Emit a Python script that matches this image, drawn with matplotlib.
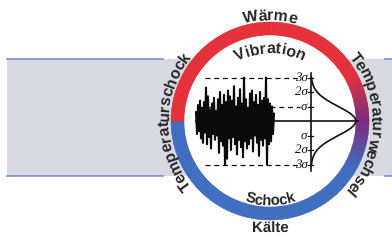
import numpy as np
import matplotlib
matplotlib.use('Agg')
import matplotlib.pyplot as plt
from matplotlib.patches import Wedge, Circle, Rectangle
from matplotlib.font_manager import FontProperties
from matplotlib.colors import LinearSegmentedColormap

# consistent glyph metrics for rotated single letters
plt.rcParams['text.hinting'] = 'no_hinting'
plt.rcParams['text.hinting_factor'] = 1

# Labels around the ring
top_label = 'Wärme'
bottom_label = 'Kälte'
inner_top_label = 'Vibration'
inner_bottom_label = 'Schock'
left_label = 'Temperaturschock'
right_label = 'Temperaturwechsel'

# Sigma levels and their labels on the distribution axis
sigma_levels = [3, 2, 1, -1, -2, -3]
sigma_labels = ['3σ', '2σ', 'σ', 'σ', '2σ', '3σ']

# Vibration signal (in sigma units)
signal = [0.6, -0.9, 1.1, -0.7, 1.4, -1.2, 0.9, -1.5, 1.3, -0.8,
          2.3, -1.6, 1.7, -1.1, 0.8, -1.9, 1.2, -0.9, 1.6, -1.3,
          0.7, -1.0, 1.5, -2.2, 2.0, -1.4, 1.1, -1.7, 1.8, -3.0,
          1.3, -2.6, 2.1, -1.2, 1.7, -2.0, 1.4, -1.1, 2.4, -1.6,
          1.0, -2.3, 1.6, -1.3, 2.2, -1.8, 1.2, -2.5, 3.0, -1.4,
          1.5, -1.9, 0.9, -1.6, 1.9, -1.2, 2.1, -2.1, 1.3, -1.0,
          1.8, -1.5, 1.1, -2.4, 2.0, -1.3, 1.4, -1.7, 1.6, -1.2,
          3.0, -3.0, 1.5, -1.6, 1.2, -1.4, 1.0, -0.9, 0.5]

# Bell curve (relative density) at sigma positions
bell_z = [-3, -2.75, -2.5, -2.25, -2, -1.75, -1.5, -1.25, -1, -0.75, -0.5, -0.25, 0,
          0.25, 0.5, 0.75, 1, 1.25, 1.5, 1.75, 2, 2.25, 2.5, 2.75, 3]
bell_d = [0.011, 0.023, 0.044, 0.080, 0.135, 0.216, 0.325, 0.458, 0.607, 0.755, 0.883, 0.969, 1.0,
          0.969, 0.883, 0.755, 0.607, 0.458, 0.325, 0.216, 0.135, 0.080, 0.044, 0.023, 0.011]

W, H = 392, 241
cx, cy = 270, 120
R_out, ring_w = 99, 14
sig = 14.5
FONT = 'Liberation Sans'
WEIGHT = 'bold'
TXT = '#262626'

fig = plt.figure(figsize=(W / 100, H / 100), dpi=100)
ax = fig.add_axes([0, 0, 1, 1])
ax.set_xlim(0, W)
ax.set_ylim(0, H)
ax.axis('off')

# Gray band with blue edges
ax.add_patch(Rectangle((7, 65), W - 7, 117, color='#d9d9e1', lw=0, zorder=0))
for yy in (65, 182):
    ax.plot([7, 163], [yy, yy], color='#6f8ccb', lw=1.1, zorder=1)
    ax.plot([385, W], [yy, yy], color='#6f8ccb', lw=1.1, zorder=1)

# Ring: red on top, blue below, gradient on the right
cmap = LinearSegmentedColormap.from_list('rb', ['#e5303a', '#7c2a7e', '#3f6dc0'])


def ring_color(a):
    if -30 <= a <= 30:
        return cmap((30 - a) / 60)
    return '#e5303a' if a > 0 else '#3f6dc0'


for a in range(-180, 180):
    c = ring_color(a + 0.5)
    ax.add_patch(Wedge((cx, cy), R_out, a, a + 1.2, width=ring_w,
                       facecolor=c, edgecolor=c, lw=0.3, zorder=2))
ax.add_patch(Circle((cx, cy), R_out - ring_w, color='white', zorder=2))

fig.canvas.draw()
renderer = fig.canvas.get_renderer()


def arc_text(s, r, theta_c, size, outward=True, track=0.98):
    fp = FontProperties(family=FONT, weight=WEIGHT, size=size)
    wid = lambda t: renderer.get_text_width_height_descent(t, fp, ismath=False)[0]
    total = wid(s)
    for i, ch in enumerate(s):
        # ink centre of character i along the straight string
        left = total - wid(s[i:])
        right = wid(s[:i + 1])
        off = track * ((left + right) / 2 - total / 2) / r
        if outward:
            th = np.radians(theta_c) - off
            rot = np.degrees(th) - 90
        else:
            th = np.radians(theta_c) + off
            rot = np.degrees(th) + 90
        ax.text(cx + r * np.cos(th), cy + r * np.sin(th), ch, fontproperties=fp,
                rotation=rot, rotation_mode='anchor', ha='center', va='baseline',
                color=TXT, zorder=5)


arc_text(top_label, 101, 90, 11.5)
arc_text(inner_top_label, 68, 90, 11.5)
arc_text(left_label, 101.5, 180, 11.5)
arc_text(right_label, 101.5, -2, 11.5)
arc_text(inner_bottom_label, 84, -90, 10.5, outward=False)
ax.text(cx, 8, bottom_label, family=FONT, weight=WEIGHT, fontsize=10.5, ha='center',
        va='baseline', color=TXT, zorder=5)

# Dashed sigma guides
dash = dict(color='#111111', lw=0.9, ls=(0, (4, 3)), zorder=3)
ax.plot([205, 300], [cy + 3 * sig, cy + 3 * sig], **dash)
ax.plot([205, 300], [cy - 3 * sig, cy - 3 * sig], **dash)
ax.plot([200, 300], [cy + sig, cy + sig], **dash)

# Axes of the distribution
ax.plot([196, 358], [cy, cy], color='#111111', lw=1.2, zorder=3)
ax_x = 311
ax.plot([ax_x, ax_x], [cy + 48, cy - 50], color='#111111', lw=1.2, zorder=3)
for lv, lab in zip(sigma_levels, sigma_labels):
    yy = cy + lv * sig
    ax.plot([ax_x - 3, ax_x + 2], [yy, yy], color='#111111', lw=0.9, zorder=3)
    ax.text(ax_x - 3.5, yy, lab, family='Liberation Serif', style='italic', fontsize=9,
            ha='right', va='center', color='#111111', zorder=5)

# Bell curve
ax.plot([ax_x + 45 * d for d in bell_d], [cy + z * sig for z in bell_z],
        color='#111111', lw=1.2, zorder=3)

# Vibration signal
xs = np.arange(196, 196 + len(signal))
ax.plot(xs, [cy + v * sig for v in signal], color='#0a0a0a', lw=1.5, zorder=4)

plt.savefig('out.png', dpi=100)
